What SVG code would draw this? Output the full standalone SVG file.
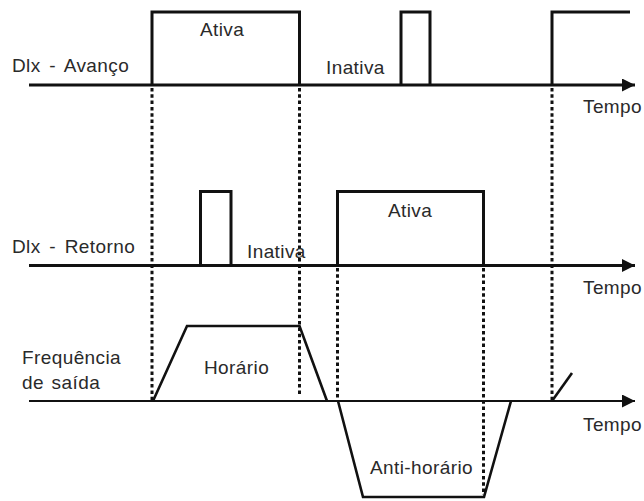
<svg xmlns="http://www.w3.org/2000/svg" width="644" height="501" viewBox="0 0 644 501">
<defs>
<style>
text{font-family:"Liberation Sans",Arial,sans-serif;font-size:19px;fill:#2a2a2a;letter-spacing:0.4px}
.sig{fill:none;stroke:#111;stroke-width:3;stroke-linejoin:miter}
.axis{fill:none;stroke:#111;stroke-width:3}
.axis2{fill:none;stroke:#111;stroke-width:2.2}
.dash{fill:none;stroke:#111;stroke-width:3;stroke-dasharray:3.5 2.8}
.ramp{fill:none;stroke:#111;stroke-width:2.6;stroke-linejoin:miter}
</style>
<marker id="arr" viewBox="0 0 13 13" refX="13" refY="6.5" markerWidth="13" markerHeight="13" markerUnits="userSpaceOnUse" orient="auto">
<path d="M0,0 L13,6.5 L0,13 Z" fill="#111"/>
</marker>
</defs>
<rect width="644" height="501" fill="#fff"/>
<g id="guides">
<line class="dash" x1="152" y1="88" x2="152" y2="400"/>
<line class="dash" x1="299.5" y1="88" x2="299.5" y2="396"/>
<line class="dash" x1="337.5" y1="268" x2="337.5" y2="398"/>
<line class="dash" x1="483.5" y1="268" x2="483.5" y2="495"/>
<line class="dash" x1="552" y1="88" x2="552" y2="403"/>
</g>
<g id="avanco">
<line class="axis" x1="29" y1="85" x2="635" y2="85" marker-end="url(#arr)"/>
<path class="sig" d="M152,85 V12 H299.5 V85"/>
<path class="sig" d="M401,85 V12 H430 V85"/>
<path class="sig" d="M552,85 V12 H630"/>
<text x="12" y="72" word-spacing="3">Dlx - Avanço</text>
<text x="200" y="36">Ativa</text>
<text x="326" y="74">Inativa</text>
<text x="583" y="113">Tempo</text>
</g>
<g id="retorno">
<line class="axis" x1="29" y1="265.5" x2="635" y2="265.5" marker-end="url(#arr)"/>
<path class="sig" d="M200.5,265.5 V191.5 H231 V265.5"/>
<path class="sig" d="M337.5,265.5 V191.5 H483.5 V265.5"/>
<text x="12" y="253" word-spacing="3">Dlx - Retorno</text>
<text x="388" y="217">Ativa</text>
<text x="247" y="258">Inativa</text>
<text x="583" y="294">Tempo</text>
</g>
<g id="frequencia">
<line class="axis2" x1="29" y1="401" x2="635" y2="401" marker-end="url(#arr)"/>
<path class="ramp" d="M153,401 L187,326 H299.5 L327,401"/>
<path class="ramp" d="M338,401 L363,497 H484 L511,401"/>
<path class="ramp" d="M552,401 L572,373"/>
<text x="22" y="364">Frequência</text>
<text x="22" y="389" word-spacing="2">de saída</text>
<text x="204" y="374">Horário</text>
<text x="370" y="474">Anti-horário</text>
<text x="583" y="431">Tempo</text>
</g>
</svg>
